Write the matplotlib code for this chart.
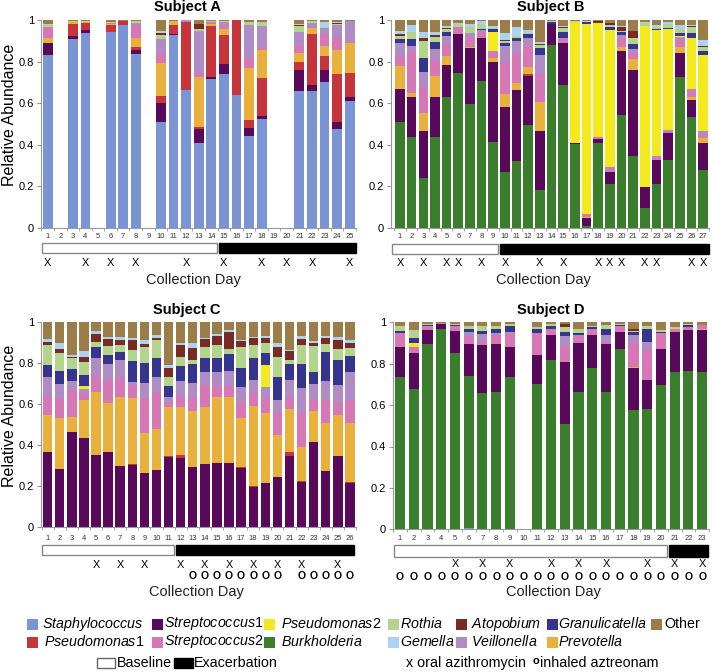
import numpy as np
import matplotlib
matplotlib.use('Agg')
import matplotlib.pyplot as plt
from matplotlib.patches import Rectangle
from matplotlib.transforms import Affine2D, blended_transform_factory

plt.rcParams['font.family'] = ['Liberation Sans', 'DejaVu Sans']
plt.rcParams['mathtext.fontset'] = 'custom'
plt.rcParams['mathtext.rm'] = 'Liberation Sans'
plt.rcParams['mathtext.it'] = 'Liberation Sans:italic'

W, H = 712, 672

# stacking order, bottom to top
taxa = ['Staphylococcus', 'Burkholderia', 'Streptococcus1', 'Pseudomonas1', 'Prevotella',
        'Streptococcus2', 'Veillonella', 'Pseudomonas2', 'Granulicatella', 'Rothia',
        'Atopobium', 'Gemella', 'Other']

colors = {
    'Staphylococcus': '#7b94d4', 'Burkholderia': '#3a7d2c', 'Streptococcus1': '#58095a',
    'Pseudomonas1': '#c8343c', 'Prevotella': '#e9b13c', 'Streptococcus2': '#d777b5',
    'Veillonella': '#b08cc6', 'Pseudomonas2': '#f2ea1c', 'Granulicatella': '#35348e',
    'Rothia': '#b3d58b', 'Atopobium': '#7a2a25', 'Gemella': '#a9d3ee', 'Other': '#9c7c48',
}

labels = {
    'Staphylococcus': r'$\mathit{Staphylococcus}$', 'Streptococcus1': r'$\mathit{Streptococcus}$1',
    'Pseudomonas2': r'$\mathit{Pseudomonas2}$', 'Rothia': r'$\mathit{Rothia}$',
    'Atopobium': r'$\mathit{Atopobium}$', 'Granulicatella': r'$\mathit{Granulicatella}$',
    'Other': 'Other', 'Pseudomonas1': r'$\mathit{Pseudomonas}$1',
    'Streptococcus2': r'$\mathit{Streptococcus2}$', 'Burkholderia': r'$\mathit{Burkholderia}$',
    'Gemella': r'$\mathit{Gemella}$', 'Veillonella': r'$\mathit{Veillonella}$',
    'Prevotella': r'$\mathit{Prevotella}$',
}

# ---- Subject A (25 days, days 2,5,9,19,20 not collected)
subj_a = {
    'Staphylococcus': [.83, 0, .908, .937, 0, .94, .975, .838, 0, .51, .93, .663, .41, .716, .74, .637, .441, .522, 0, 0, .66, .66, .703, .475, .608],
    'Streptococcus1': [.06, 0, .016, .016, 0, .004, 0, .017, 0, .09, .003, 0, .066, .01, .046, 0, .037, .017, 0, 0, .099, .026, .055, .033, .02],
    'Pseudomonas1': [0, 0, .058, .031, 0, .03, .02, .017, 0, .032, .042, .327, .009, .245, .144, .363, .04, .182, 0, 0, .037, .248, .07, .234, .117],
    'Prevotella': [.025, 0, .006, .006, 0, .007, 0, .043, 0, .162, .018, 0, .24, .012, .028, 0, .249, .135, 0, 0, .043, .027, .047, .113, .143],
    'Streptococcus2': [.05, 0, .004, 0, 0, .004, 0, .06, 0, .048, 0, .005, .022, .008, .025, 0, .05, .016, 0, 0, .037, 0, .058, .06, .005],
    'Veillonella': [0, 0, 0, 0, 0, 0, 0, .012, 0, .068, 0, .003, .2, 0, .008, 0, .161, .1, 0, 0, .068, .024, .03, .063, .1],
    'Rothia': [.012, 0, .003, .003, 0, .006, 0, .006, 0, .016, .002, 0, .008, .004, .003, 0, .013, .017, 0, 0, .027, .01, .005, .004, .004],
    'Atopobium': [0, 0, 0, 0, 0, 0, 0, 0, 0, .01, 0, 0, .025, 0, 0, 0, 0, 0, 0, 0, .004, 0, 0, .005, 0],
    'Gemella': [.003, 0, 0, 0, 0, 0, 0, 0, 0, .01, 0, 0, 0, 0, 0, 0, 0, 0, 0, 0, .005, 0, .02, .003, 0],
    'Other': [.02, 0, .005, .007, 0, .009, .005, .007, 0, .054, .005, .002, .02, .005, .006, 0, .009, .011, 0, 0, .02, .005, .012, .01, .003],
}
a_baseline_last = 14
a_azithro = [1, 4, 6, 8, 12, 15, 18, 20, 22, 25]
a_aztreonam = []

# ---- Subject B (27 days)
subj_b = {
    'Burkholderia': [.507, .438, .238, .435, .628, .743, .595, .705, .414, .27, .321, .494, .181, .882, .685, .403, .008, .41, .21, .543, .345, .093, .21, .326, .725, .531, .278],
    'Streptococcus1': [.16, .19, .227, .193, .155, .188, .272, .207, .385, .31, .342, .235, .286, .098, .205, .006, .037, .015, .06, .306, .412, .101, .116, .131, .116, .084, .131],
    'Pseudomonas1': [0, 0, 0, 0, 0, 0, 0, 0, 0, 0, 0, .013, 0, .003, 0, 0, 0, 0, 0, 0, 0, 0, 0, 0, 0, 0, 0],
    'Prevotella': [.112, .022, .089, .102, .044, 0, .005, 0, .02, .062, .032, .033, .14, 0, 0, 0, .008, 0, 0, .021, .056, 0, 0, 0, .03, .013, .021],
    'Streptococcus2': [.048, .194, .125, .077, .056, .032, .043, .028, .025, .158, .148, .1, .131, 0, .025, 0, .013, .01, .015, .045, .03, 0, .01, .008, .036, .035, .016],
    'Veillonella': [.064, .031, .072, .052, .04, .005, .021, .012, .006, .075, .056, .04, .093, 0, 0, 0, 0, 0, .005, .013, .018, 0, .008, .005, .011, .007, .021],
    'Pseudomonas2': [0, 0, 0, 0, 0, 0, 0, 0, .094, 0, 0, 0, 0, 0, 0, .583, .915, .549, .66, 0, 0, .778, .608, .487, .005, .245, .364],
    'Granulicatella': [.016, .033, .064, .033, .017, 0, 0, .004, .012, .016, .016, .016, .033, .007, .025, 0, .007, .003, .015, .013, .024, 0, .004, .003, .013, .024, .019],
    'Rothia': [.017, .032, .085, .025, .017, .013, .032, .025, .005, .01, .007, .005, .016, 0, .02, .003, .004, 0, .01, .004, .027, .012, .012, .02, .022, .026, .022],
    'Atopobium': [.007, 0, .012, .011, .006, 0, 0, 0, 0, .003, 0, 0, .005, 0, .006, 0, 0, .006, .01, .019, .036, 0, 0, 0, 0, .005, .004],
    'Gemella': [.017, .036, .028, .016, .008, .006, .011, .012, .01, .032, .045, .018, .008, .003, .006, 0, .002, 0, 0, .006, 0, .004, .008, .008, .017, .008, .028],
    'Other': [.052, .024, .06, .056, .029, .013, .021, .007, .029, .064, .033, .046, .107, .007, .028, .005, .006, .007, .015, .03, .052, .012, .024, .012, .025, .022, .096],
}
b_baseline_last = 9
b_azithro = [1, 3, 5, 6, 8, 10, 13, 15, 18, 19, 20, 22, 23, 26, 27]
b_aztreonam = []

# ---- Subject C (26 days)
subj_c = {
    'Streptococcus1': [.365, .284, .465, .433, .352, .365, .3, .303, .263, .279, .342, .335, .295, .306, .311, .311, .287, .194, .214, .243, .348, .222, .417, .274, .348, .217],
    'Pseudomonas1': [0, 0, 0, 0, 0, 0, 0, .004, 0, 0, .006, .018, 0, 0, 0, 0, .004, .006, 0, 0, .02, .005, 0, 0, 0, .005],
    'Prevotella': [.18, .249, .073, .186, .306, .24, .333, .323, .194, .197, .237, .234, .273, .28, .323, .323, .24, .392, .34, .206, .206, .165, .15, .232, .198, .287],
    'Streptococcus2': [.1, .097, .13, .035, .078, .111, .1, .062, .17, .184, .023, .053, .067, .106, .053, .053, .08, .064, .073, .108, .06, .17, .052, .116, .064, .11],
    'Veillonella': [.088, .065, .044, .018, .088, .078, .081, .016, .073, .073, .027, .071, .065, .062, .067, .073, .073, .06, .057, .062, .084, .114, .078, .089, .082, .135],
    'Pseudomonas2': [0, 0, 0, .017, 0, 0, 0, 0, 0, 0, 0, 0, 0, 0, 0, 0, 0, 0, .105, 0, 0, 0, 0, 0, 0, 0],
    'Granulicatella': [.056, .063, .056, .052, .051, .046, .037, .101, .097, .089, .054, .073, .093, .071, .068, .081, .089, .109, .057, .11, .078, .118, .06, .14, .122, .079],
    'Rothia': [.097, .088, .054, .064, .026, .043, .035, .053, .081, .09, .044, .046, .022, .053, .064, .024, .102, .061, .049, .1, .02, .092, .125, .039, .051, .037],
    'Atopobium': [.013, .022, .008, .025, .04, .031, .025, .049, .012, .008, .043, .057, .055, .036, .046, .083, .031, .033, .027, .05, .04, .03, .013, .032, .046, .025],
    'Gemella': [.017, .027, .01, .027, .013, .013, .016, .011, .021, .016, .013, .011, .025, .008, .006, .011, .005, .008, .008, .015, .008, .014, .011, .01, .016, .016],
    'Other': [.084, .105, .16, .143, .046, .073, .073, .078, .089, .064, .211, .102, .105, .078, .062, .041, .089, .073, .07, .106, .136, .07, .094, .068, .073, .089],
}
c_baseline_last = 11
c_azithro = [5, 7, 9, 12, 14, 16, 18, 20, 22, 25]
c_aztreonam = [13, 14, 15, 16, 17, 18, 19, 20, 22, 23, 24, 25, 26]

# ---- Subject D (23 days, day 10 not collected)
subj_d = {
    'Staphylococcus': [0, 0, 0, 0, 0, .005, 0, 0, 0, 0, 0, 0, 0, 0, 0, 0, 0, 0, 0, 0, 0, 0, 0],
    'Burkholderia': [.734, .68, .893, .966, .85, .736, .66, .665, .737, 0, .702, .818, .509, .665, .778, .665, .87, .576, .58, .697, .762, .767, .758],
    'Streptococcus1': [.148, .172, .07, .026, .106, .153, .23, .228, .145, 0, .14, .121, .301, .233, .16, .23, .085, .202, .141, .173, .193, .195, .204],
    'Prevotella': [0, 0, 0, 0, 0, 0, 0, 0, 0, 0, 0, 0, 0, 0, 0, 0, 0, .005, 0, 0, 0, 0, .004],
    'Streptococcus2': [.068, .03, .013, .004, .025, .04, .022, .045, .06, 0, .108, .027, .072, .036, .025, .012, .027, .116, .145, .077, .011, .017, .02],
    'Veillonella': [0, 0, .004, 0, 0, .018, .03, .012, .01, 0, 0, .004, .053, .005, .005, .032, 0, .04, .037, 0, 0, 0, 0],
    'Pseudomonas2': [0, .02, 0, 0, 0, 0, 0, 0, 0, 0, 0, 0, 0, 0, 0, 0, 0, 0, 0, 0, 0, 0, 0],
    'Granulicatella': [.006, .024, .005, 0, .007, .016, .016, .016, .028, 0, .016, .012, .017, .01, .007, .028, .006, .016, .065, .008, 0, .008, 0],
    'Rothia': [.024, .037, .008, 0, .004, .016, .026, .018, .01, 0, .012, .008, .027, .019, .009, .022, .004, .005, .012, .007, .013, .004, 0],
    'Atopobium': [0, 0, 0, 0, 0, 0, 0, 0, 0, 0, 0, 0, .012, 0, 0, 0, 0, .007, 0, 0, 0, 0, 0],
    'Other': [.02, .037, .007, .004, .008, .016, .016, .016, .01, 0, .022, .01, .009, .032, .016, .011, .008, .033, .02, .038, .021, .009, .014],
}
d_baseline_last = 20
d_azithro = [5, 7, 9, 12, 14, 16, 19, 21, 23]
d_aztreonam = list(range(1, 24))


fig = plt.figure(figsize=(W / 100, H / 100), dpi=100)
pix = Affine2D().scale(1 / W, -1 / H).translate(0, 1) + fig.transFigure


def add_panel(title, data, baseline_last, azithro, aztreonam, box, xlim, width,
              rows, title_xy, coll_xy, ylabel_xy=None):
    left, top, right, bottom = box
    ax = fig.add_axes([left / W, 1 - bottom / H, (right - left) / W, (bottom - top) / H])
    n = len(next(iter(data.values())))
    days = np.arange(1, n + 1)
    base = np.zeros(n)
    for t in taxa:
        vals = np.array(data.get(t, np.zeros(n)), dtype=float)
        ax.bar(days, vals, width, bottom=base, color=colors[t], linewidth=0)
        base += vals

    ax.set_xlim(*xlim)
    ax.set_ylim(0, 1)
    ax.set_yticks([0, .2, .4, .6, .8, 1])
    ax.set_yticklabels(['0', '0.2', '0.4', '0.6', '0.8', '1'], fontsize=8)
    ax.set_xticks([])
    ax.set_xticks(np.arange(0.5, n + 1), minor=True)
    ax.tick_params(axis='x', which='minor', length=2.5, color='#999999')
    ax.tick_params(axis='y', length=3, width=0.8, color='#999999', pad=2)
    for s in ['top', 'right']:
        ax.spines[s].set_visible(False)
    for s in ['left', 'bottom']:
        ax.spines[s].set_color('#999999')
        ax.spines[s].set_linewidth(0.8)

    tr = blended_transform_factory(ax.transData, pix)
    y_day, box_top, box_bot, y_x, y_o = rows
    for d in days:
        ax.text(d, y_day, str(d), transform=tr, ha='center', va='center', fontsize=5.5,
                color='#333333')
    split = baseline_last + 0.5
    ax.add_patch(Rectangle((xlim[0] + 0.05, box_top), split - 0.08 - xlim[0] - 0.05,
                           box_bot - box_top, transform=tr, facecolor='white',
                           edgecolor='#888888', linewidth=1, clip_on=False))
    ax.add_patch(Rectangle((split + 0.08, box_top), xlim[1] - split - 0.08,
                           box_bot - box_top, transform=tr, facecolor='black',
                           edgecolor='black', linewidth=1, clip_on=False))
    for d in azithro:
        ax.text(d, y_x, 'X', transform=tr, ha='center', va='center', fontsize=7.8)
    for d in aztreonam:
        ax.text(d, y_o, 'O', transform=tr, ha='center', va='center', fontsize=7.5,
                fontweight='bold')

    fig.text(*title_xy, title, transform=pix, ha='center', va='center', fontsize=10.5,
             fontweight='bold')
    fig.text(*coll_xy, 'Collection Day', transform=pix, ha='center', va='center',
             fontsize=10.5, color='#222222')
    if ylabel_xy:
        fig.text(*ylabel_xy, 'Relative Abundance', transform=pix, ha='center', va='center',
                 rotation=90, fontsize=11.5)
    return ax


add_panel('Subject A', subj_a, a_baseline_last, a_azithro, a_aztreonam,
          (41, 20, 356, 227.7), (0.47, 25.48), 0.78, (237, 243, 253, 263, 274),
          (187, 7), (193, 280), (10, 115))
add_panel('Subject B', subj_b, b_baseline_last, b_azithro, b_aztreonam,
          (391, 20, 709, 227.7), (0.23, 27.51), 0.82, (237, 244, 254, 263, 274),
          (551, 7), (543, 280))
add_panel('Subject C', subj_c, c_baseline_last, c_azithro, c_aztreonam,
          (41, 321.7, 356, 527.3), (0.45, 26.35), 0.78, (538, 545, 555, 565, 576),
          (187, 310), (196, 592), (10, 416))
add_panel('Subject D', subj_d, d_baseline_last, d_azithro, d_aztreonam,
          (393, 322.3, 709, 529.3), (0.49, 23.44), 0.74, (539, 545, 557, 564, 577),
          (551, 310), (553, 592))

# legend drawn in pixel positions
legend_rows = [
    (624, [(27, 42, 'Staphylococcus'), (152, 164, 'Streptococcus1'), (264, 281, 'Pseudomonas2'),
           (388, 400, 'Rothia'), (456, 471, 'Atopobium'), (547, 558, 'Granulicatella'),
           (651, 664, 'Other')]),
    (642, [(27, 44, 'Pseudomonas1'), (152, 164, 'Streptococcus2'), (264, 281, 'Burkholderia'),
           (388, 400, 'Gemella'), (456, 471, 'Veillonella'), (547, 558, 'Prevotella')]),
]
for y, items in legend_rows:
    for px, tx, name in items:
        fig.patches.append(Rectangle((px, y - 5.5), 11, 11, transform=pix,
                                     facecolor=colors[name], linewidth=0))
        fig.text(tx, y, labels[name], transform=pix, ha='left', va='center', fontsize=10.3)

fig.patches.append(Rectangle((97, 658), 18, 10, transform=pix, facecolor='white',
                             edgecolor='#666666', linewidth=1))
fig.text(117, 663, 'Baseline', transform=pix, ha='left', va='center', fontsize=10.3)
fig.patches.append(Rectangle((174, 658), 19, 10, transform=pix, facecolor='black',
                             edgecolor='black', linewidth=1))
fig.text(194, 663, 'Exacerbation', transform=pix, ha='left', va='center', fontsize=10.3)
fig.text(406, 663, 'x oral azithromycin', transform=pix, ha='left', va='center', fontsize=10.3)
fig.text(533, 661, 'o', transform=pix, ha='left', va='center', fontsize=8, fontweight='bold')
fig.text(540, 663, 'inhaled aztreonam', transform=pix, ha='left', va='center', fontsize=10.3)

fig.savefig('out.png', dpi=100)
